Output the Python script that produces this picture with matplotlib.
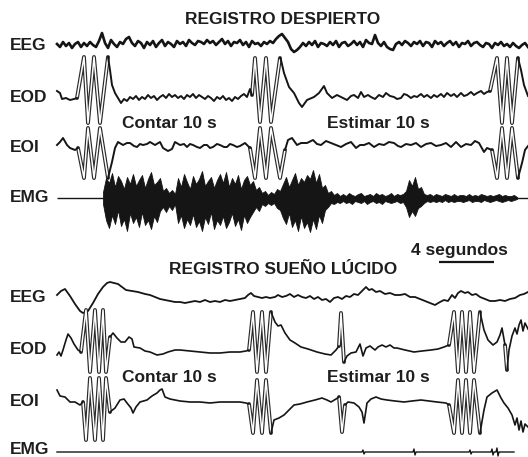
import numpy as np
import matplotlib.pyplot as plt

FS = 13.75          # chart samples per second (scale bar: 4 s = 55 samples)
N_SAMPLES = 471     # length of each recording in samples

# ---------------- awake recording ----------------
# EEG amplitude, one value every 3 samples starting at sample 0
awake_eeg = [1, -2, 3, -1, 2, -3, 1, 3, -2, 2,
             -1, 3, 0, -2, 4, 12, 2, -3, 5, 1,
             -2, 3, 1, 6, 8, 2, -1, 4, 2, -3,
             3, 0, 4, -2, 2, 5, -1, 3, 1, -2,
             4, 1, 3, -1, 5, 2, 0, 4, 3, 1,
             5, 2, 4, 0, 3, 6, 1, 4, -1, 3,
             2, 5, 0, 3, -2, 4, 1, 2, -1, 3,
             1, 4, 2, 6, 9, 11, 7, 3, -4, -7,
             -5, -2, 2, -1, 3, 0, 4, -2, 2, 1,
             -1, 3, 0, 4, -2, 2, 3, -1, 1, 4,
             0, 3, -2, 5, 2, 1, 10, 2, -1, 3,
             -2, -4, -5, 1, 3, 0, 4, 2, -1, 3,
             1, 4, -1, 3, 2, -2, 4, 1, 3, -1,
             2, 4, 0, 3, -2, 2, 1, 4, -1, 2,
             3, 0, -2, 2, 1, -3, 2, 0, 3, -1,
             1, -2, 2, -1, -3, 0, 2, -2]

# (sample, amplitude) pairs
awake_eod = [(0, 6), (3, 4), (5, -2), (9, -1), (13, -3), (17, -2), (20, -1),
             (27, 40), (31, -26), (37, 40), (43, -26), (51, 40),
             (53, 27), (55, 12), (58, 4), (61, -1), (64, -6), (67, -2), (70, -4), (73, 0),
             (76, -2), (79, 1), (82, -3), (85, 0), (88, -2), (91, 2), (94, -1), (97, 1),
             (100, -3), (103, 0), (106, 2), (109, -1), (112, 3), (115, 0), (118, 2), (121, -1),
             (124, 1), (127, -2), (130, 2), (133, 0), (136, 3), (139, -1), (142, 2), (145, 0),
             (148, -2), (151, 1), (154, -1), (157, -4), (160, 0), (163, -2), (166, 1), (169, -3),
             (172, -1), (175, -4), (178, 0), (181, -2), (184, 1), (187, 3), (190, 0), (193, 8),
             (195, 2),
             (198, 39), (203, -25), (209, 39), (214, -25), (223, 39),
             (224, 37), (227, 24), (232, 10), (237, 4), (242, -6), (245, -10), (250, -3),
             (257, 0), (262, 4), (267, 11), (270, 4), (275, -1), (280, 2), (284, 0), (290, -3),
             (294, 1), (297, 2), (301, -1), (304, 5), (307, 0), (311, 2), (314, 0), (318, -2),
             (322, 2), (326, 0), (329, 4), (333, 1), (337, 0), (340, -2), (344, -1), (347, 3),
             (350, 2), (354, -1), (357, 1), (360, 0), (364, 3), (367, 0), (370, 2), (374, -1),
             (377, 2), (380, 0), (384, 3), (387, 0), (390, 4), (394, 1), (397, 3), (400, 0),
             (404, 4), (407, 1), (410, 2), (414, 5), (417, 2), (420, 4), (424, 6), (427, 3),
             (430, 5), (433, 6),
             (440, 39), (445, -26), (450, 39), (455, -26), (461, 39),
             (464, 27), (467, 12), (471, 1)]

awake_eoi = [(0, 2), (3, 5), (6, 9), (10, 2), (13, -1), (18, -3), (21, -1),
             (27, -31), (31, 19), (37, -31), (43, 19), (51, -31),
             (55, -15), (58, -1), (61, 5), (66, 2), (70, 4), (73, 4), (77, 1), (80, 0),
             (83, 3), (86, 2), (90, 3), (93, 5), (98, 2), (103, 5), (106, -1), (111, -4),
             (115, -2), (118, 5), (123, 2), (127, 3), (130, 0), (133, 3), (136, 2), (140, 0),
             (143, -1), (147, 2), (150, 2), (153, -1), (156, 0), (160, 3), (163, 2), (167, 0),
             (170, 0), (173, 3), (176, 2), (180, 0), (183, 1), (188, 4), (193, -1),
             (198, -31), (203, 19), (209, -31), (214, 19), (223, -31),
             (228, -3), (231, 7), (235, 9), (240, 2), (244, 4), (250, 4), (256, 7), (260, 3),
             (264, 2), (269, 6), (274, 4), (279, 2), (284, 0), (289, 3), (294, 5), (299, -1),
             (303, 2), (307, 2), (312, 4), (317, 0), (322, 3), (327, 2), (332, 5), (337, 4),
             (341, 1), (344, 0), (349, 3), (354, 2), (359, 4), (364, 0), (369, 3), (374, 4),
             (379, 1), (384, 2), (389, 4), (394, 0), (399, 5), (404, 0), (409, 3), (414, 2),
             (418, 6), (422, 4), (427, -5), (430, -1), (435, -3),
             (440, -31), (445, 19), (450, -31), (455, 19), (461, -31),
             (465, -16), (468, -3), (471, 1)]

# EMG envelope, one value every 3 samples starting at sample 46
awake_emg_upper = [6, 20, 15, 25, 11, 22, 17, 9, 21, 14,
                   24, 12, 18, 23, 10, 19, 26, 13, 16, 20,
                   7, 10, 5, 8, 4, 20, 11, 24, 16, 9,
                   22, 14, 19, 27, 12, 17, 21, 10, 18, 24,
                   15, 26, 11, 20, 14, 23, 9, 18, 22, 13,
                   17, 8, 11, 5, 7, 3, 6, 4, 9, 7,
                   14, 21, 11, 18, 25, 13, 20, 16, 23, 19,
                   28, 15, 24, 10, 13, 5, 7, 3, 5, 2,
                   4, 2, 5, 3, 2, 4, 5, 2, 3, 4,
                   2, 5, 3, 4, 2, 3, 5, 2, 4, 3,
                   4, 7, 18, 12, 21, 9, 11, 4, 3, 4,
                   2, 4, 3, 2, 4, 3, 2, 4, 2, 3,
                   3, 2, 4, 2, 3, 2, 4, 3, 2, 3,
                   2, 3, 4, 2, 3, 2, 2, 3, 1]
awake_emg_lower = [-6, -22, -30, -17, -26, -12, -28, -21, -33, -15,
                   -25, -19, -29, -14, -27, -22, -31, -18, -24, -13,
                   -9, -14, -8, -12, -6, -25, -17, -30, -21, -27,
                   -16, -29, -23, -33, -19, -26, -14, -31, -22, -27,
                   -18, -30, -24, -15, -28, -21, -32, -17, -25, -19,
                   -14, -9, -13, -6, -8, -5, -7, -5, -10, -12,
                   -20, -26, -15, -29, -22, -33, -18, -30, -24, -34,
                   -21, -31, -17, -25, -12, -9, -5, -6, -4, -5,
                   -3, -5, -4, -6, -3, -4, -5, -3, -6, -4,
                   -3, -5, -4, -6, -3, -4, -5, -4, -3, -5,
                   -4, -9, -19, -13, -18, -10, -8, -5, -3, -4,
                   -3, -4, -3, -4, -2, -4, -3, -4, -3, -3,
                   -4, -3, -2, -4, -3, -3, -4, -2, -3, -4,
                   -3, -2, -3, -4, -3, -2, -3, -2, -1]

# ---------------- lucid dream recording ----------------
lucid_eeg = [(0, 2), (4, 6), (8, 8), (13, 1), (18, -7), (23, -14), (26, -16), (31, -14),
             (36, -6), (41, 3), (46, 10), (50, 14), (53, 15), (57, 14), (61, 13), (65, 10),
             (69, 7), (75, 6), (81, 5), (88, 3), (93, 2), (98, 0), (103, -2), (108, -3),
             (113, -4), (118, -5), (123, -5), (128, -6), (133, -5), (138, -4), (143, -5),
             (148, -3), (153, -5), (158, -4), (163, -5), (168, -3), (173, -4), (178, -3),
             (183, -2), (188, -1), (191, 2), (194, 4), (197, 1), (201, 0), (205, -1), (209, 0),
             (213, -1), (218, 0), (221, 2), (225, 0), (229, 1), (233, 3), (237, 0), (241, 2),
             (245, 0), (249, -1), (253, 1), (257, -2), (261, 0), (265, -3), (269, -2), (273, -5),
             (277, -1), (281, 0), (285, -2), (289, 1), (293, 0), (297, 3), (301, 2), (305, 6),
             (309, 10), (312, 7), (315, 8), (319, 5), (323, 6), (328, 3), (333, 4), (338, 2),
             (343, 2), (348, 3), (353, 0), (358, 0), (363, -2), (368, -4), (373, -6), (378, -8),
             (383, -5), (387, -3), (391, -4), (395, 2), (398, -1), (401, 4), (404, 6), (408, 4),
             (411, 5), (415, 2), (419, 3), (423, 0), (428, -2), (433, -4), (438, -4), (443, -3),
             (448, -4), (453, -2), (458, -1), (463, 2), (467, 3), (471, 5)]

lucid_eod = [(0, -5), (2, -2), (4, -6), (6, 0), (9, 10), (11, 16), (14, 12), (17, 6), (21, 0),
             (24, -2),
             (29, 40), (33, -22), (38, 40), (42, -22), (46, 40), (49, -22), (53, 13),
             (56, 17), (60, 12), (64, 8), (68, 8), (72, 13), (75, 11), (77, 3), (83, 2),
             (88, -1), (93, -2), (100, -5), (106, -4), (111, -2), (118, 0), (123, 0), (133, -1),
             (143, -2), (153, -3), (163, -3), (173, -2), (183, -2), (189, -1), (192, 0),
             (196, 38), (200, -22), (205, 38), (209, -22), (214, 38),
             (218, 28), (221, 24), (224, 25), (228, 17), (233, 10), (238, 7), (244, 3),
             (251, 1), (260, -2), (268, -4), (274, -5), (279, 0), (282, 4),
             (284, 37), (287, -12),
             (290, -6), (294, -3), (299, -2), (303, 6), (306, -6), (309, 2), (313, 4), (318, 0),
             (321, 3), (325, 5), (329, 3), (333, 5), (337, 2), (340, 2), (348, 0), (357, -2),
             (365, -1), (374, 0), (381, 1), (387, 3), (392, 5),
             (397, 38), (401, -22), (405, 38), (409, -22), (413, 38), (417, -22), (423, 38),
             (427, 20), (431, 10), (436, 5), (440, 8), (443, 15), (445, 22), (448, 5),
             (450, -20), (452, 0), (455, 14), (458, 22), (460, 16), (462, 25), (464, 30),
             (466, 19), (468, 27), (471, 21)]

lucid_eoi = [(0, 12), (3, 6), (8, 5), (13, 0), (18, 0), (23, -3), (26, 0),
             (29, -38), (33, 24), (38, -38), (42, 24), (46, -38), (49, 24),
             (53, -10), (58, -6), (63, 2), (67, 3), (70, -1), (74, -6), (76, -11), (79, -5),
             (83, 0), (90, 2), (95, 6), (100, 9), (103, 12), (105, 13), (108, 5), (113, 3),
             (123, 1), (133, 0), (143, 0), (153, -1), (163, 0), (173, 0), (183, 0), (189, -1),
             (192, -2),
             (196, -31), (200, 22), (205, -31), (209, 22), (214, -31),
             (217, -18), (222, -16), (227, -13), (232, -8), (237, -3), (243, -2), (250, 0),
             (258, 2), (265, 4), (270, 2), (274, 0), (279, 3), (282, 5),
             (285, -30), (288, -3),
             (291, 0), (297, -1), (302, -5), (305, -10), (307, -21), (310, -1), (314, 3),
             (319, 5), (324, 3), (330, 2), (338, 1), (347, 0), (355, 1), (364, 2), (372, 1),
             (380, 0), (389, -1), (392, -3),
             (397, -31), (401, 22), (405, -31), (409, 22), (413, -31), (417, 22), (423, -31),
             (427, -8), (430, 5), (435, 9), (440, 12), (444, 4), (447, -1), (451, -6),
             (455, -13), (458, -23), (460, -16), (462, -28), (464, -19), (466, -30),
             (468, -22), (471, -25)]

lucid_emg = [(0, 0), (305, 0), (306, 2), (307, -2), (308, 0), (356, 0), (357, 3), (358, -3),
             (359, 0), (412, 0), (413, 2), (414, -2), (415, 0), (434, 0), (435, 3), (436, -3),
             (437, 0), (439, 0), (440, 4), (441, -4), (442, 0), (457, 0)]

channels = ["EEG", "EOD", "EOI", "EMG"]
awake_base = [45, 97, 147, 198]
lucid_base = [297, 350, 402, 452]

INK = "#151515"
TXT = "#1e1e1e"
plt.rcParams['font.family'] = ['Liberation Sans', 'DejaVu Sans']
font = dict(color=TXT, fontsize=12.5, fontweight='bold')

fig = plt.figure(figsize=(5.28, 4.57), dpi=100)
ax = fig.add_axes([0, 0, 1, 1])
ax.set_xlim(-57 / FS, N_SAMPLES / FS)
ax.set_ylim(457, 0)
ax.axis('off')


def draw(pts, base, hollow=None, lw=1.2):
    s, a = np.array(pts, dtype=float).T
    t = s / FS
    y = base - a
    if hollow is None:
        ax.plot(t, y, color=INK, lw=lw, solid_joinstyle='round')
        return
    # fast pen strokes come out as thin double lines
    fast = np.abs(np.diff(a)) > hollow
    runs, start = [], 0
    for i in range(1, len(fast) + 1):
        if i == len(fast) or fast[i] != fast[start]:
            runs.append((start, i, fast[start]))
            start = i
    for i0, i1, f in runs:
        if f:
            ax.plot(t[i0:i1 + 1], y[i0:i1 + 1], color='#2a2a2a', lw=2.8,
                    solid_joinstyle='round', solid_capstyle='round')
            ax.plot(t[i0:i1 + 1], y[i0:i1 + 1], color='white', lw=1.1,
                    solid_joinstyle='round', solid_capstyle='butt')
    for i0, i1, f in runs:
        if not f:
            ax.plot(t[i0:i1 + 1], y[i0:i1 + 1], color=INK, lw=lw, solid_joinstyle='round')


# awake
eeg = np.array(awake_eeg)
ax.plot(np.arange(len(eeg)) * 3 / FS, awake_base[0] - eeg, color=INK, lw=1.9)
draw(awake_eod, awake_base[1], hollow=24, lw=1.4)
draw(awake_eoi, awake_base[2], hollow=24, lw=1.4)
ax.hlines(awake_base[3], 0, N_SAMPLES / FS, color=INK, lw=1.0)
t_env = (46 + 3 * np.arange(len(awake_emg_upper))) / FS
ax.fill_between(t_env, awake_base[3] - np.array(awake_emg_upper),
                awake_base[3] - np.array(awake_emg_lower), color=INK, lw=0.6)

# lucid
draw(lucid_eeg, lucid_base[0], lw=1.3)
draw(lucid_eod, lucid_base[1], hollow=24)
draw(lucid_eoi, lucid_base[2], hollow=24)
draw(lucid_emg, lucid_base[3], lw=1.0)

# labels
lab = ax.get_yaxis_transform()
for name, b in zip(channels, awake_base):
    ax.text(0.019, b, name, transform=lab, ha='left', va='center', **font)
for name, b in zip(channels[:3], lucid_base[:3]):
    ax.text(0.019, b, name, transform=lab, ha='left', va='center', **font)
ax.text(0.019, lucid_base[3] - 3, channels[3], transform=lab, ha='left', va='center', **font)

ax.text(0.536, 20, "REGISTRO DESPIERTO", transform=lab, ha='center', va='center', **font)
ax.text(0.536, 270, "REGISTRO SUEÑO LÚCIDO", transform=lab, ha='center', va='center', **font)

for yy in (124, 378):
    ax.text(8.2, yy, "Contar 10 s", ha='center', va='center', **font)
    ax.text(23.35, yy, "Estimar 10 s", ha='center', va='center', **font)

ax.plot([27.8, 31.8], [262, 262], color=INK, lw=1.6, solid_capstyle='butt')
ax.text(29.3, 250, "4 segundos", ha='center', va='center', **font)

fig.savefig("out.png", dpi=100)
